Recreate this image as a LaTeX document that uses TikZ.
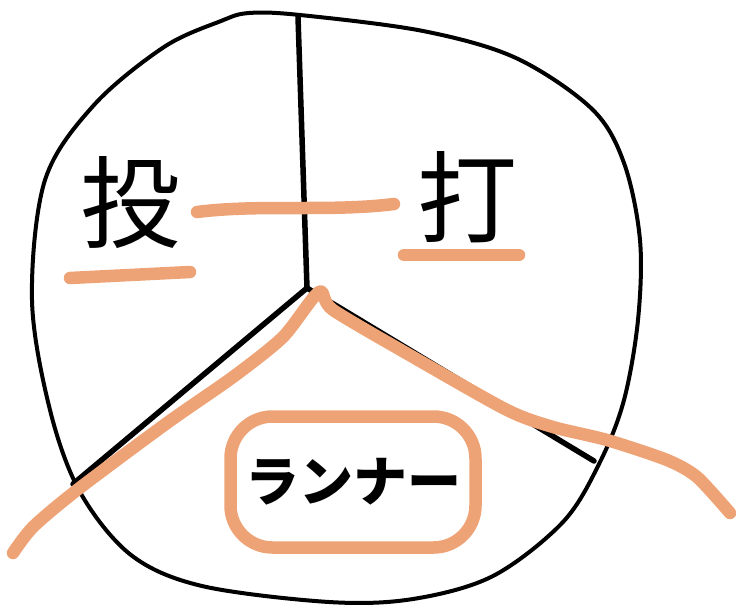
\documentclass[tikz,border=0pt]{standalone}
\usepackage{fontspec}
\newfontfamily\jpfont{Noto Sans CJK JP}
\usetikzlibrary{positioning}
\definecolor{penorange}{RGB}{238,163,118}

\begin{document}
\begin{tikzpicture}[x=1pt, y=-1pt, line cap=round, line join=round,
  inkline/.style={draw=black, line width=5.5pt},
  marker/.style={draw=penorange, line width=12.5pt},
  bigchar/.style={font=\jpfont\fontsize{100}{100}\selectfont, inner sep=0pt},
  smallchar/.style={font=\jpfont\bfseries\fontsize{54}{54}\selectfont}]
  \useasboundingbox (0,0) rectangle (736,611);
  % outer ring
  \draw[inkline, line width=4pt] plot[smooth cycle, tension=0.55] coordinates {
    (249,13) (300,15) (423,31) (516,58) (592,109) (624,163) (640,240)
    (638,320) (624,400) (600,462) (563,522) (493,576) (413,599) (329,602)
    (202,586) (131,555) (80,492) (50,410) (32,300) (45,180) (94,105)
    (164,47) (221,21)};
  % dividers
  \coordinate (hub) at (307,288);
  \coordinate (top) at (298,17);
  \coordinate (lowleft) at (73,484);
  \coordinate (lowright) at (594,461);
  \draw[inkline] (top) -- (hub);
  \draw[inkline] (hub) -- (lowleft);
  \draw[inkline] (hub) -- (lowright);
  % labels
  \node[bigchar] (pitch) at (130,203) {投};
  \node[bigchar] (bat) at (467,197) {打};
  \node[smallchar, draw=penorange, line width=12.5pt, rounded corners=42pt,
        minimum width=245, minimum height=131] (runner) at (353,482) {ランナー};
  % marker strokes
  \draw[marker] (70,278) -- (190,272);
  \draw[marker] (404,255) -- (519,255);
  \draw[marker] (197,212) .. controls (260,204) and (330,212) .. (394,204);
  \draw[marker] plot[smooth, tension=0.45] coordinates {
    (13,553) (33,527) (77,490) (167,423) (233,377) (283,337) (319,292)
    (333,310) (413,357) (507,410) (553,427) (607,440) (667,460) (697,477)
    (730,513)};
\end{tikzpicture}
\end{document}
